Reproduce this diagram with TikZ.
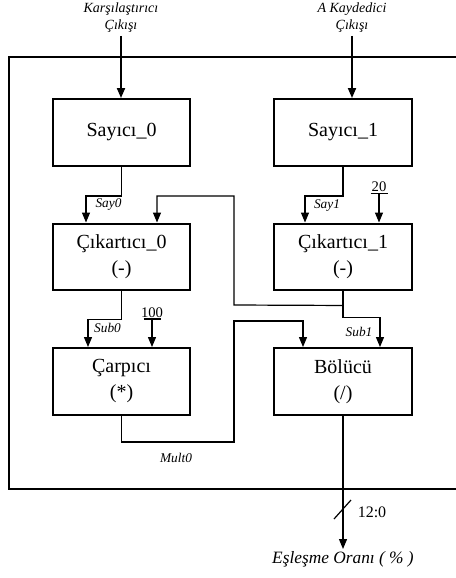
\documentclass[tikz,border=0pt]{standalone}
\usepackage{fontspec}
\setmainfont{Liberation Serif}
\usetikzlibrary{arrows.meta,calc}
\tikzset{
  blk/.style={draw,line width=1.7pt,minimum width=103pt,minimum height=50pt,inner sep=0pt,align=center,font=\fontsize{15}{19.5}\selectfont},
  conn/.style={line width=0.9pt},
  tip/.style={-{Triangle[width=6pt,length=7.5pt]}},
  sig/.style={font=\fontsize{10}{12}\selectfont\itshape,inner sep=0pt},
  inp/.style={align=center,font=\fontsize{10.5}{12.75}\selectfont\itshape,inner sep=2pt},
  num/.style={font=\fontsize{11}{13}\selectfont,inner sep=1pt}
}
\begin{document}
\begin{tikzpicture}[x=0.75pt,y=-0.75pt,line cap=butt,line join=miter]
\useasboundingbox (0,0) rectangle (456,578);
\clip (0,0) rectangle (456,578);
\draw[line width=1.9pt] (470,57)--(9,57)--(9,489)--(470,489);
\node[blk] (cnt0) at (121.5,132.5) {Sayıcı\_0};
\node[blk] (cnt1) at (343,132.5) {Sayıcı\_1};
\node[blk] (sub0) at (121.5,257) {Çıkartıcı\_0\\(-)};
\node[blk] (sub1) at (343,257) {Çıkartıcı\_1\\(-)};
\node[blk] (mul) at (121.5,381.5) {Çarpıcı\\(*)};
\node[blk] (div) at (343,381.5) {Bölücü\\(/)};
\node[inp] (in0) at (121,18) {Karşılaştırıcı\\Çıkışı};
\node[inp] (in1) at (352,18) {A Kaydedici\\Çıkışı};
\draw[line width=1.4pt,tip] (in0.south) -- (in0.south |- cnt0.north);
\draw[line width=1.4pt,tip] (in1.south) -- (in1.south |- cnt1.north);
\draw[conn,tip] (cnt0.south) -- ++(0,29) -| ($(sub0.north)+(-35.5,0)$);
\draw[conn,tip] (cnt1.south) -- ++(0,29) -| ($(sub1.north)+(-38,0)$);
\path ($(sub1.north)+(36,-29)$) coordinate (c20) ($(mul.north)+(30.5,-28)$) coordinate (c100);
\draw[conn,tip] (c20) -- (c20 |- sub1.north);
\draw[conn] ($(c20)+(-8.5,0)$) -- ($(c20)+(8.5,0)$);
\node[num,above] (n20) at (c20) {20};
\draw[conn,tip] (c100) -- (c100 |- mul.north);
\draw[conn] ($(c100)+(-8.5,0)$) -- ($(c100)+(8.5,0)$);
\node[num,above] (n100) at (c100) {100};
\coordinate (br) at ($(sub1.south)+(-1,14)$);
\draw[conn,tip] (sub1.south) -- ++(0,26) -| ($(div.north)+(37,0)$);
\draw[conn,tip] (br) -- (234,305) -- (234,196) -| ($(sub0.north)+(35.5,0)$);
\draw[conn,tip] (sub0.south) -- ++(0,28) -| ($(mul.north)+(-33.5,0)$);
\draw[conn,tip] (mul.south) -- ++(0,26) -| (234,321) -| ($(div.north)+(-40,0)$);
\coordinate (out) at (343,549);
\draw[conn,tip] (div.south) -- (out);
\draw[conn] (334,519) -- (351,500);
\node[num,font=\fontsize{12}{14}\selectfont] (bus) at (372,512) {12:0};
\node[inp,font=\fontsize{13}{15}\selectfont\itshape,below] (res) at (out) {Eşleşme Oranı ( \% )};
\node[sig] (lsay0) at (108.5,205) {Say0};
\node[sig] (lsay1) at (327,206) {Say1};
\node[sig] (lsub0) at (107.5,328) {Sub0};
\node[sig] (lsub1) at (359,332) {Sub1};
\node[sig] (lmult) at (176,458) {Mult0};
\end{tikzpicture}
\end{document}
